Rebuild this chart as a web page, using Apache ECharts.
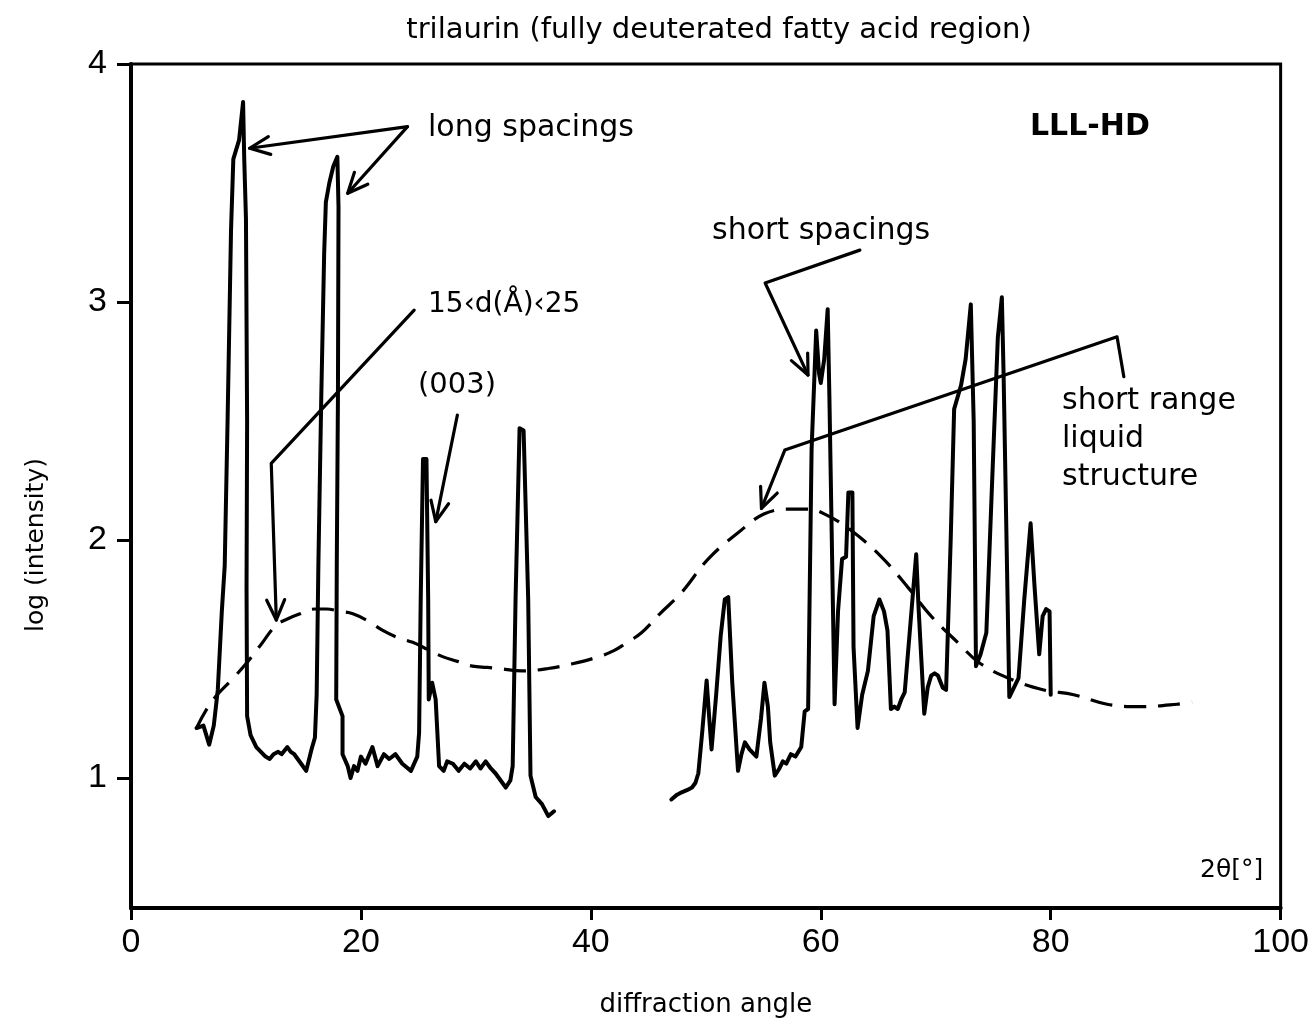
<!DOCTYPE html>
<html><head><meta charset="utf-8">
<script src="https://cdn.jsdelivr.net/npm/echarts@6/dist/echarts.min.js"></script>
<style>html,body{margin:0;padding:0;background:#fff}#c{width:1312px;height:1025px}</style>
</head><body><div id="c"></div>
<script>
// ---- data (2θ in degrees, log intensity) ----
const xTickValues = [0, 20, 40, 60, 80, 100];
const yTickValues = [1, 2, 3, 4];

const crystalLowAngle = [
  [5.7,1.21],[6.3,1.22],[6.8,1.14],[7.2,1.22],[7.55,1.37],[7.9,1.7],[8.15,1.89],[8.4,2.5],[8.7,3.3],[8.9,3.60],
  [9.4,3.68],[9.75,3.84],[9.85,3.6],[10.0,3.35],[10.1,2.5],[10.05,1.8],[10.1,1.26],[10.4,1.18],[10.9,1.13],
  [11.3,1.11],[11.7,1.09],[12.06,1.08],[12.4,1.10],[12.8,1.11],[13.1,1.10],[13.6,1.13],[13.9,1.11],[14.2,1.10],
  [14.8,1.06],[15.24,1.03],[15.7,1.12],[16.0,1.17],[16.15,1.35],[16.3,1.9],[16.55,2.6],[16.8,3.2],[16.95,3.42],
  [17.25,3.50],[17.6,3.57],[17.95,3.61],[18.05,3.4],[18.0,2.6],[17.9,1.9],[17.85,1.33],[18.4,1.26],[18.4,1.10],
  [18.85,1.05],[19.1,1.00],[19.4,1.05],[19.7,1.03],[20.0,1.09],[20.4,1.06],[21.0,1.13],[21.45,1.05],[22.0,1.10],
  [22.46,1.08],[23.0,1.10],[23.6,1.06],[24.35,1.03],[24.9,1.09],[25.06,1.19],[25.2,1.75],[25.4,2.34],[25.7,2.34],
  [25.85,1.75],[25.9,1.33],[26.2,1.40],[26.5,1.33],[26.8,1.05],[27.2,1.03],[27.5,1.07],[28.0,1.06],[28.5,1.03],
  [29.0,1.06],[29.5,1.04],[30.0,1.07],[30.4,1.04],[30.85,1.07],[31.3,1.04],[31.7,1.02],[32.3,0.98],[32.6,0.96],
  [33.0,0.99],[33.2,1.05],[33.45,1.75],[33.8,2.47],[34.15,2.46],[34.55,1.75],[34.75,1.01],[35.2,0.92],
  [35.75,0.89],[36.3,0.84],[36.8,0.86]
];

const crystalWideAngle = [
  [47.0,0.91],[47.5,0.93],[47.9,0.94],[48.4,0.95],[48.8,0.96],[49.1,0.98],[49.35,1.02],[49.7,1.2],[50.07,1.41],
  [50.3,1.25],[50.5,1.12],[50.9,1.35],[51.3,1.6],[51.65,1.75],[51.95,1.76],[52.3,1.4],[52.8,1.03],[53.1,1.10],
  [53.4,1.15],[53.8,1.12],[54.4,1.09],[54.8,1.25],[55.1,1.40],[55.4,1.30],[55.6,1.15],[56.0,1.01],[56.4,1.04],
  [56.7,1.07],[57.0,1.06],[57.4,1.10],[57.8,1.09],[58.3,1.13],[58.6,1.28],[58.9,1.29],[59.2,2.38],[59.6,2.88],
  [59.85,2.70],[60.0,2.66],[60.3,2.76],[60.6,2.97],[60.75,2.6],[61.2,1.31],[61.5,1.7],[61.85,1.92],[62.2,1.93],
  [62.4,2.20],[62.75,2.20],[62.85,1.55],[63.2,1.21],[63.6,1.35],[64.1,1.45],[64.6,1.68],[65.1,1.75],[65.5,1.70],
  [65.8,1.62],[66.1,1.29],[66.4,1.30],[66.7,1.29],[67.0,1.33],[67.3,1.36],[67.8,1.65],[68.3,1.94],[68.5,1.72],
  [69.0,1.27],[69.3,1.38],[69.6,1.43],[69.9,1.44],[70.2,1.43],[70.6,1.38],[70.9,1.37],[71.3,2.0],[71.6,2.55],
  [72.2,2.65],[72.6,2.76],[73.05,2.99],[73.3,2.5],[73.5,1.47],[73.9,1.52],[74.4,1.61],[74.9,2.24],[75.4,2.85],
  [75.75,3.02],[75.9,2.7],[76.4,1.34],[76.8,1.38],[77.2,1.42],[77.7,1.75],[78.25,2.07],[78.6,1.8],[79.0,1.52],
  [79.3,1.68],[79.6,1.71],[79.9,1.70],[80.0,1.35]
];

const liquidStructure = [
  [5.7,1.21],[7.0,1.32],[8.9,1.42],[10.0,1.48],[11.3,1.56],[12.6,1.64],[13.7,1.67],[14.7,1.69],[16.0,1.71],
  [17.0,1.71],[18.2,1.70],[19.3,1.69],[20.6,1.66],[21.9,1.62],[23.2,1.59],[24.5,1.57],[25.8,1.54],[27.1,1.51],
  [28.4,1.49],[29.7,1.47],[31.0,1.465],[32.0,1.46],[34.0,1.45],[36.3,1.46],[38.4,1.48],[40.7,1.51],[42.0,1.535],
  [43.0,1.565],[44.4,1.61],[46.0,1.69],[47.9,1.78],[50.2,1.92],[52.8,2.03],[55.1,2.11],[57.4,2.13],[58.8,2.13],
  [60.3,2.11],[62.65,2.04],[65.25,1.93],[67.6,1.80],[69.6,1.68],[71.9,1.57],[73.9,1.48],[76.8,1.41],[79.4,1.37],
  [82.0,1.35],[84.9,1.31],[87.8,1.30],[91.0,1.31],[92.3,1.32]
];

// annotation leader lines (in data coordinates), last point = arrow tip
const leaderLongA = [[24.05,3.737],[10.32,3.646]];
const leaderLongB = [[24.05,3.737],[18.85,3.457]];
const leaderDRange = [[24.63,2.966],[12.2,2.322],[12.64,1.664]];
const leader003 = [[28.39,2.525],[26.51,2.077]];
const leaderShort = [[63.4,3.218],[55.16,3.08],[58.89,2.693]];
const leaderLiquid = [[86.36,2.686],[85.77,2.854],[56.87,2.378],[54.84,2.133]];

const FONT = '"DejaVu Sans", sans-serif';
const chart = echarts.init(document.getElementById('c'), null, {renderer: 'canvas'});

const option = {
  animation: false,
  backgroundColor: '#fff',
  title: {
    text: 'trilaurin (fully deuterated fatty acid region)',
    left: 714, top: 11, textAlign: 'center',
    textStyle: {fontFamily: FONT, fontSize: 29, fontWeight: 'normal', color: '#000'}
  },
  grid: {left: 131, right: 29, top: 64, bottom: 117, show: true, borderColor: '#000', borderWidth: 3},
  xAxis: {
    type: 'value', min: 0, max: 100, interval: 20,
    name: 'diffraction angle', nameLocation: 'middle', nameGap: 84,
    nameTextStyle: {fontFamily: FONT, fontSize: 26, color: '#000'},
    axisLine: {lineStyle: {color: '#000', width: 4}},
    axisTick: {length: 12, lineStyle: {color: '#000', width: 3}},
    axisLabel: {margin: 18, fontFamily: '"Liberation Sans", sans-serif', fontSize: 34, color: '#000'},
    splitLine: {show: false}
  },
  yAxis: {
    type: 'value', min: 0.4538, max: 4,
    axisLine: {show: true, lineStyle: {color: '#000', width: 4}},
    axisTick: {show: true, customValues: yTickValues, length: 14, lineStyle: {color: '#000', width: 3}},
    axisLabel: {customValues: yTickValues, margin: 24, fontFamily: '"Liberation Sans", sans-serif', fontSize: 34, color: '#000'},
    splitLine: {show: false}
  },
  series: [
    {type: 'line', name: 'low angle', data: crystalLowAngle, showSymbol: false, z: 3,
     lineStyle: {color: '#000', width: 4, join: 'round', cap: 'round'}},
    {type: 'line', name: 'wide angle', data: crystalWideAngle, showSymbol: false, z: 3,
     lineStyle: {color: '#000', width: 4, join: 'round', cap: 'round'}},
    {type: 'line', name: 'liquid', data: liquidStructure, showSymbol: false, smooth: 0.4, z: 2,
     lineStyle: {color: '#000', width: 3.2, type: [22, 12]}}
  ]
};
chart.setOption(option);

function toPx(p) { return chart.convertToPixel({xAxisIndex: 0, yAxisIndex: 0}, p); }
function arrowHead(a, b) {
  const ang = Math.atan2(b[1] - a[1], b[0] - a[0]);
  const L = 22, s = 0.42;
  return [[b[0] - L * Math.cos(ang - s), b[1] - L * Math.sin(ang - s)], b,
          [b[0] - L * Math.cos(ang + s), b[1] - L * Math.sin(ang + s)]];
}
const lineStyle = {stroke: '#000', lineWidth: 3.2, fill: null, lineJoin: 'round', lineCap: 'round'};
const graphics = [];
[leaderLongA, leaderLongB, leaderDRange, leader003, leaderShort, leaderLiquid].forEach(path => {
  const pts = path.map(toPx);
  graphics.push({type: 'polyline', z: 10, shape: {points: pts}, style: lineStyle});
  graphics.push({type: 'polyline', z: 10, shape: {points: arrowHead(pts[pts.length - 2], pts[pts.length - 1])}, style: lineStyle});
});
function label(text, x, y, size, extra) {
  return Object.assign({type: 'text', z: 11, x: x, y: y,
    style: Object.assign({text: text, fill: '#000', fontFamily: FONT, fontSize: size, textVerticalAlign: 'middle'}, extra || {})});
}
graphics.push(label('long spacings', 428, 128, 30));
graphics.push(label('LLL-HD', 1030, 127, 30, {fontWeight: 'bold'}));
graphics.push(label('short spacings', 712, 231, 30));
graphics.push(label('15‹d(Å)‹25', 428, 305, 28));
graphics.push(label('(003)', 418, 385, 29));
graphics.push(label('short range', 1062, 401, 30));
graphics.push(label('liquid', 1062, 439, 30));
graphics.push(label('structure', 1062, 477, 30));
graphics.push(label('2θ[°]', 1200, 870, 25));
graphics.push({type: 'text', z: 11, x: 36, y: 545, rotation: Math.PI / 2,
  style: {text: 'log (intensity)', fill: '#000', fontFamily: FONT, fontSize: 25, textAlign: 'center', textVerticalAlign: 'middle'}});
chart.setOption({graphic: {elements: graphics}});
</script>
</body></html>
